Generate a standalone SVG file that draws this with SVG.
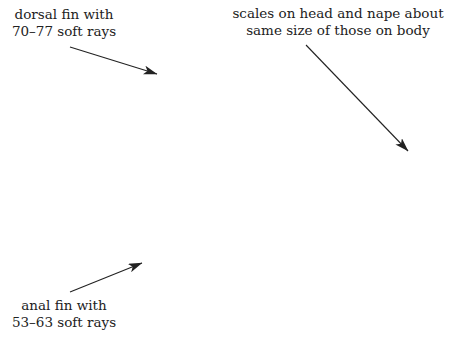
<svg xmlns="http://www.w3.org/2000/svg" width="461" height="337" viewBox="0 0 461 337">
<style>
text{font-family:"DejaVu Serif","Liberation Serif",serif;font-size:13.5px;fill:#222;text-anchor:middle}
.c line{stroke:#222;stroke-width:1.1}
</style>
<defs><marker id="a" viewBox="0 0 14 9" refX="13.5" refY="4.5" markerWidth="14" markerHeight="9" markerUnits="userSpaceOnUse" orient="auto"><path d="M0,0L14,4.5L0,9L3.5,4.5z" fill="#222"/></marker></defs>
<rect width="461" height="337" fill="#fff"/>
<g id="dorsal"><text x="64" y="19">dorsal fin with</text><text x="64" y="36">70–77 soft rays</text></g>
<g id="scales"><text x="338" y="18">scales on head and nape about</text><text x="338" y="35">same size of those on body</text></g>
<g id="anal"><text x="64" y="310">anal fin with</text><text x="64" y="327">53–63 soft rays</text></g>
<g class="c" id="connectors">
<line x1="70" y1="47" x2="157" y2="74" marker-end="url(#a)"/>
<line x1="306" y1="45" x2="408" y2="151" marker-end="url(#a)"/>
<line x1="70" y1="292" x2="142" y2="263" marker-end="url(#a)"/>
</g>
</svg>
